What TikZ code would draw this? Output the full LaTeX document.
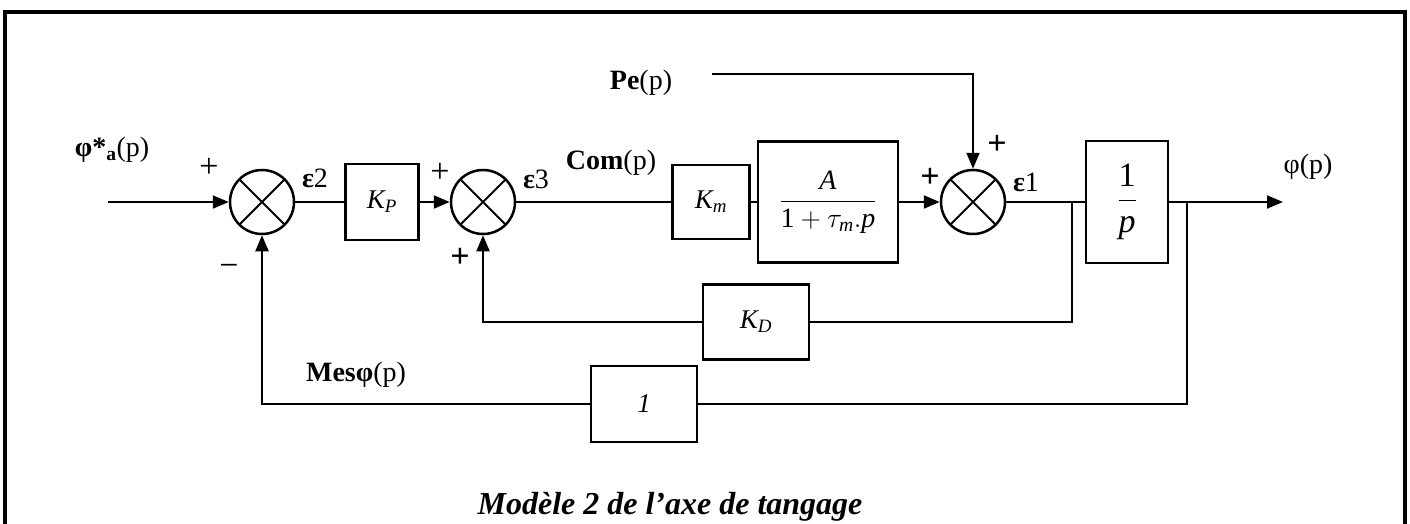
\documentclass[tikz,border=0pt]{standalone}
\usepackage{fix-cm}
\usepackage{amsmath}
\usepackage{fontspec}
\setmainfont{Liberation Serif}
\usepackage{tikz}
\usetikzlibrary{arrows.meta,positioning}

\tikzset{
  block/.style={rectangle, draw, line width=2.5pt, inner sep=0pt,
    font=\fontsize{27}{30}\selectfont},
  sumnode/.style={circle, draw, line width=2.5pt, minimum size=64pt, inner sep=0pt,
    path picture={\draw[line width=2pt]
      (path picture bounding box.north west) -- (path picture bounding box.south east)
      (path picture bounding box.north east) -- (path picture bounding box.south west);}},
  lbl/.style={inner sep=0pt, font=\fontsize{28}{32}\selectfont},
  sgn/.style={inner sep=0pt, font=\fontsize{34}{36}\selectfont},
  sgnbold/.style={inner sep=0pt, font=\fontsize{34}{36}\selectfont\bfseries}
}

\begin{document}
\begin{tikzpicture}[x=1pt, y=-1pt, line width=2pt, >={Triangle[length=16pt,width=13pt]}]
    \useasboundingbox (0,0) rectangle (1410,524);
    % cadre
    \draw[line width=3.5pt] (5,528) -- (5,12) -- (1405,12) -- (1405,528);

    % chaine directe
    \node (sum1) [sumnode] at (262,202) {};
    \node (kp) [block, minimum width=73pt, minimum height=76pt, right of=sum1, node distance=120pt] {$\mathit{K}_{\mathit{P}}$};
    \node (sum2) [sumnode, right of=kp, node distance=101pt] {};
    \node (km) [block, minimum width=77pt, minimum height=74pt, right of=sum2, node distance=228pt] {$\mathit{K}_{\mathit{m}}$};
    \node (motor) [block, minimum width=140pt, minimum height=121pt, right of=km, node distance=117pt, font=\fontsize{28}{32}\selectfont] {$\dfrac{\mathit{A}}{\text{1}+\tau_{\mathit{m}}.\mathit{p}}$};
    \node (sum3) [sumnode, right of=motor, node distance=145pt] {};
    \node (integ) [block, minimum width=82pt, minimum height=122pt, right of=sum3, node distance=154pt, font=\fontsize{34}{38}\selectfont] {$\dfrac{\text{1}}{\mathit{p}}$};

    % retours
    \node (kd) [block, minimum width=106pt, minimum height=75pt] at (756,322) {$\mathit{K}_{\mathit{D}}$};
    \node (capt) [block, minimum width=106pt, minimum height=76pt] at (644,404) {\textit{1}};

    \coordinate (in) at (108,202);
    \coordinate (out) at (1283,202);
    \coordinate (peS) at (712,74);
    \coordinate (br1) at (1072,202);
    \coordinate (br2) at (1187,202);

    % textes
    \node (phiref) [lbl] at (112,150) {\textbf{φ*}\textsubscript{\textbf{a}}(p)};
    \node (eps2) [lbl] at (315,178) {\textbf{ε}2};
    \node (eps3) [lbl] at (536,179) {\textbf{ε}3};
    \node (eps1) [lbl] at (1026,182) {\textbf{ε}1};
    \node (com) [lbl] at (611,163) {\textbf{Com}(p)};
    \node (pe) [lbl] at (641,83) {\textbf{Pe}(p)};
    \node (phiout) [lbl] at (1308,167) {φ(p)};
    \node (mes) [lbl] at (356,375) {\textbf{Mesφ}(p)};
    \node (title) [lbl, font=\fontsize{32}{36}\selectfont\bfseries\itshape] at (670,507) {Modèle 2 de l’axe de tangage};

    % signes
    \node (s1a) [sgn] at (209,168) {+};
    \node (s1b) [sgn] at (229,270) {−};
    \node (s2a) [sgn] at (440,173) {+};
    \node (s2b) [sgnbold] at (460,258) {+};
    \node (s3a) [sgnbold] at (930,178) {+};
    \node (s3b) [sgnbold] at (997,145) {+};

    \draw[->] (in) -- (sum1);
    \draw (sum1) -- (kp);
    \draw[->] (kp) -- (sum2);
    \draw (sum2) -- (km);
    \draw (km) -- (motor);
    \draw[->] (motor) -- (sum3);
    \draw (sum3) -- (integ);
    \draw[->] (integ) -- (out);
    \draw[->] (peS) -| (sum3);
    \draw (br1) |- (kd);
    \draw[->] (kd) -| (sum2);
    \draw (br2) |- (capt);
    \draw[->] (capt) -| (sum1);
\end{tikzpicture}
\end{document}
